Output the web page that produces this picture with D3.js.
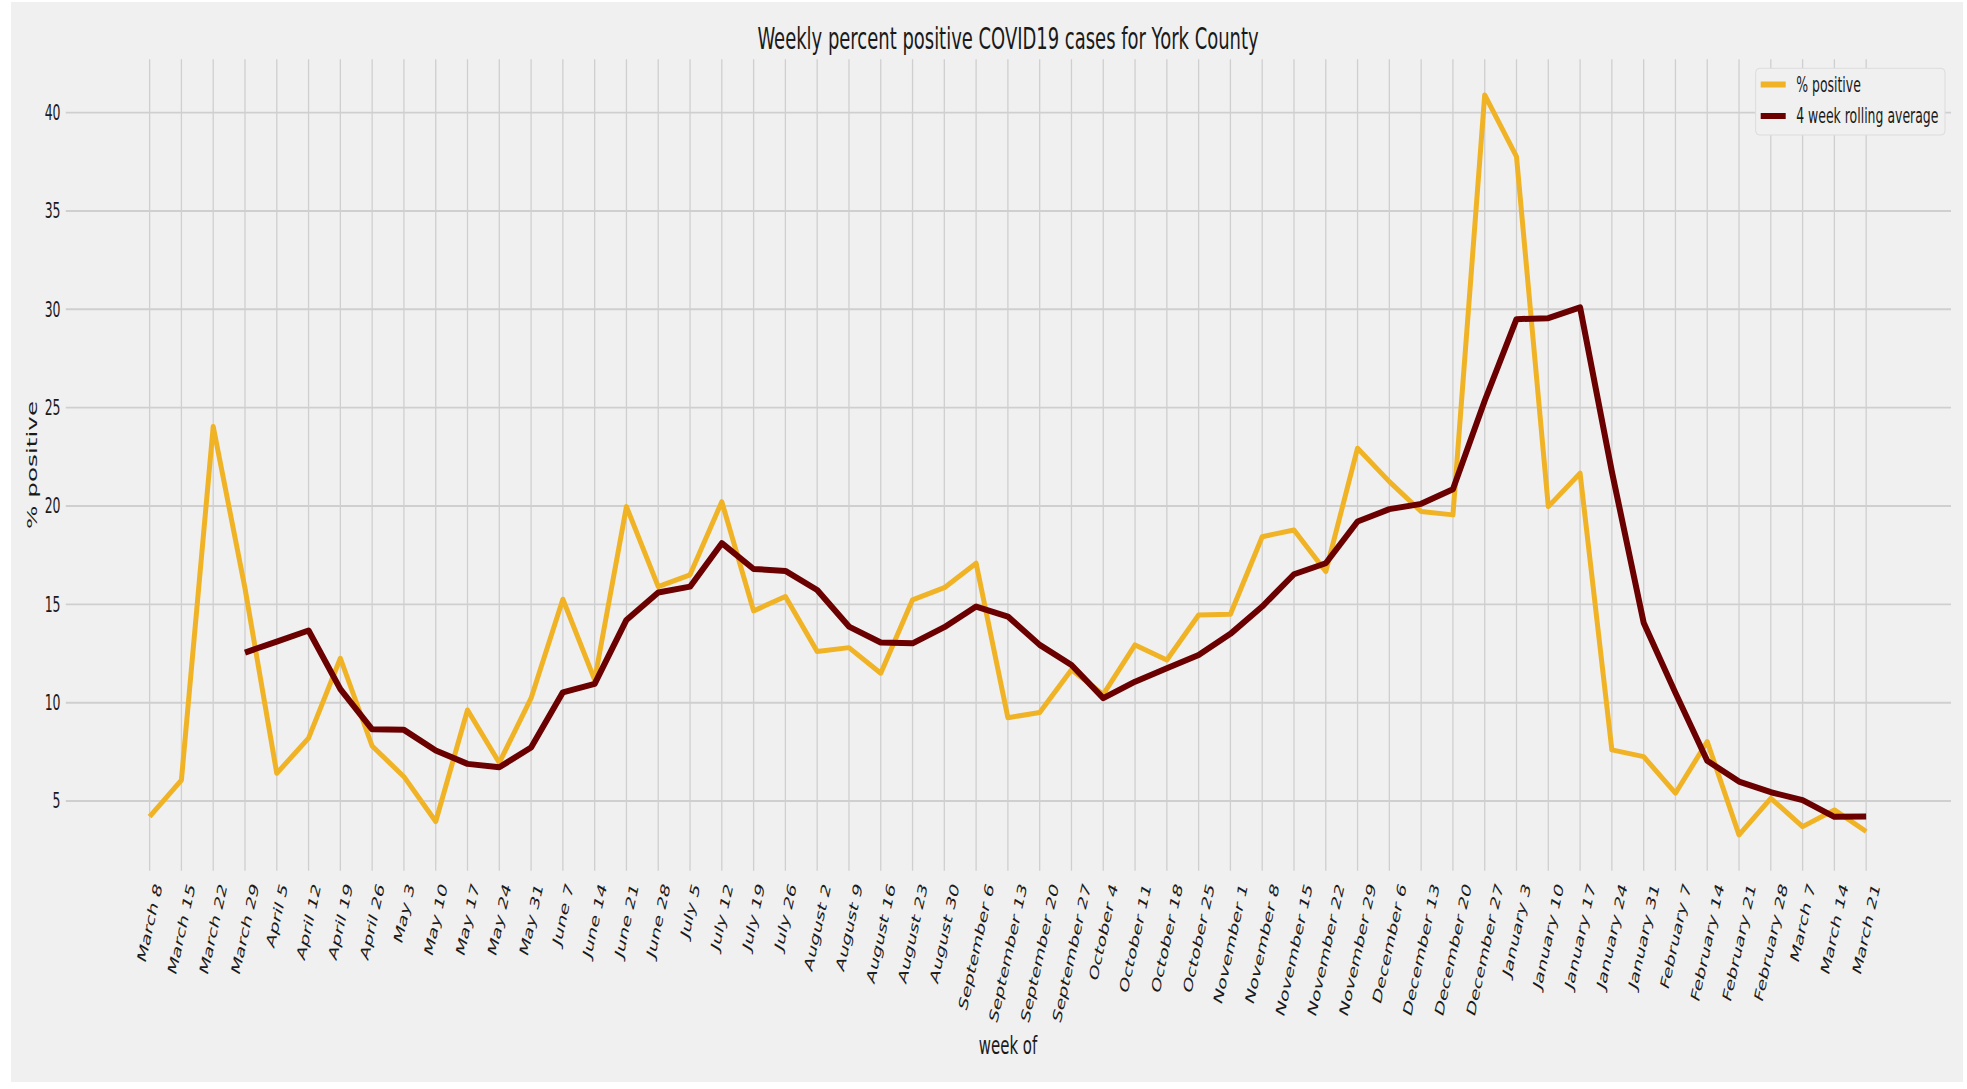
<!DOCTYPE html>
<html>
<head>
<meta charset="utf-8">
<script src="https://cdn.jsdelivr.net/npm/d3@7"></script>
<style>
  body { margin: 0; background: #fff; }
  svg { display: block; font-family: "DejaVu Sans", sans-serif; }
</style>
</head>
<body>
<svg width="1967" height="1089"></svg>
<script>
"use strict";

// weekly data
var weeks = ["March 8", "March 15", "March 22", "March 29", "April 5", "April 12", "April 19", "April 26",
  "May 3", "May 10", "May 17", "May 24", "May 31", "June 7", "June 14", "June 21", "June 28",
  "July 5", "July 12", "July 19", "July 26", "August 2", "August 9", "August 16", "August 23", "August 30",
  "September 6", "September 13", "September 20", "September 27", "October 4", "October 11", "October 18",
  "October 25", "November 1", "November 8", "November 15", "November 22", "November 29", "December 6",
  "December 13", "December 20", "December 27", "January 3", "January 10", "January 17", "January 24",
  "January 31", "February 7", "February 14", "February 21", "February 28", "March 7", "March 14", "March 21"];

var pctPositive = [4.21, 6.07, 24.04, 15.82, 6.41, 8.2, 12.26, 7.8, 6.24, 3.96, 9.63, 6.95, 10.23, 15.26,
  11.16, 19.97, 15.9, 16.5, 20.22, 14.67, 15.4, 12.6, 12.8, 11.5, 15.23, 15.85, 17.09, 9.24, 9.5, 11.67,
  10.42, 12.94, 12.17, 14.46, 14.5, 18.44, 18.78, 16.67, 22.94, 21.24, 19.72, 19.55, 40.9, 37.76, 19.97,
  21.67, 7.6, 7.26, 5.4, 8.02, 3.28, 5.14, 3.7, 4.55, 3.45];

var rollingAvg = [null, null, null, 12.55, 13.11, 13.67, 10.69, 8.65, 8.62, 7.57, 6.89, 6.72, 7.72, 10.53,
  10.96, 14.21, 15.6, 15.9, 18.11, 16.8, 16.7, 15.73, 13.87, 13.06, 13.02, 13.84, 14.89, 14.38, 12.94,
  11.92, 10.23, 11.07, 11.75, 12.43, 13.5, 14.89, 16.53, 17.09, 19.21, 19.84, 20.11, 20.85, 25.35, 29.5,
  29.55, 30.1, 21.75, 14.07, 10.5, 7.05, 5.99, 5.45, 5.05, 4.2, 4.22];

var yTicks = [5, 10, 15, 20, 25, 30, 35, 40];
var seriesNames = ["% positive", "4 week rolling average"];
var seriesColors = ["#f0b326", "#6b0000"];

var svg = d3.select("svg"),
    width = +svg.attr("width"),
    height = +svg.attr("height");

// the original picture has narrow text, so every label is squeezed sideways
var squeeze = 0.605;
var textColor = "#1a1a1a";

svg.append("rect")
  .attr("x", 11).attr("y", 2)
  .attr("width", width - 15).attr("height", height - 9)
  .attr("fill", "#f0f0f0");

var x = d3.scaleLinear().domain([-2.7, weeks.length - 1 + 2.7]).range([63.8, 1952]);
var y = d3.scaleLinear().domain([1.46, 42.71]).range([870.7, 59.3]);

// grid
var grid = svg.append("g").attr("class", "grid").attr("stroke", "#cfcfcf");
grid.selectAll("line.h").data(yTicks).enter().append("line")
  .attr("class", "h")
  .attr("stroke-width", 1.9)
  .attr("x1", x.range()[0] + 2).attr("x2", x.range()[1] - 1)
  .attr("y1", function (d) { return y(d); })
  .attr("y2", function (d) { return y(d); });
grid.selectAll("line.v").data(weeks).enter().append("line")
  .attr("class", "v")
  .attr("stroke-width", 1.3)
  .attr("x1", function (d, i) { return x(i); })
  .attr("x2", function (d, i) { return x(i); })
  .attr("y1", y.range()[1]).attr("y2", y.range()[0]);

// y tick labels
svg.append("g").selectAll("text").data(yTicks).enter().append("text")
  .attr("transform", function (d) { return "translate(60.5," + y(d) + ") scale(" + squeeze + ",1)"; })
  .attr("dy", "0.36em")
  .attr("text-anchor", "end")
  .attr("font-size", 20.6)
  .attr("fill", textColor)
  .text(function (d) { return d; });

// x tick labels, rotated 70 degrees then squeezed
var rot = 70, rad = rot * Math.PI / 180, labelTop = 881.5;
svg.append("g").selectAll("text").data(weeks).enter().append("text")
  .attr("text-anchor", "middle")
  .attr("dy", "0.36em")
  .attr("font-size", 20.6)
  .attr("fill", textColor)
  .text(function (d) { return d; })
  .attr("transform", function (d, i) {
    var len = this.getComputedTextLength();
    var h = len * Math.sin(rad) + 15 * Math.cos(rad);
    return "translate(" + x(i) + "," + (labelTop + h / 2) + ") scale(" + squeeze + ",1) rotate(" + (-rot) + ")";
  });

// lines
var line = d3.line()
  .defined(function (d) { return d != null; })
  .x(function (d, i) { return x(i); })
  .y(function (d) { return y(d); });

svg.append("path").datum(pctPositive)
  .attr("fill", "none")
  .attr("stroke", seriesColors[0])
  .attr("stroke-width", 5)
  .attr("stroke-linejoin", "round")
  .attr("d", line);

svg.append("path").datum(rollingAvg)
  .attr("fill", "none")
  .attr("stroke", seriesColors[1])
  .attr("stroke-width", 6)
  .attr("stroke-linejoin", "round")
  .attr("d", line);

// title and axis labels
svg.append("text")
  .attr("transform", "translate(1008,48.5) scale(" + squeeze + ",1)")
  .attr("text-anchor", "middle")
  .attr("font-size", 29.7)
  .attr("fill", textColor)
  .text("Weekly percent positive COVID19 cases for York County");

svg.append("text")
  .attr("transform", "translate(36.9,465) scale(" + squeeze + ",1) rotate(-90)")
  .attr("text-anchor", "middle")
  .attr("font-size", 24.7)
  .attr("fill", textColor)
  .text("% positive");

svg.append("text")
  .attr("transform", "translate(1008,1053.5) scale(" + squeeze + ",1)")
  .attr("text-anchor", "middle")
  .attr("font-size", 24.7)
  .attr("fill", textColor)
  .text("week of");

// legend
var legend = svg.append("g").attr("transform", "translate(1755.7,68.3)");
legend.append("rect")
  .attr("width", 189.3).attr("height", 66.7)
  .attr("rx", 4)
  .attr("fill", "#f0f0f0")
  .attr("stroke", "#dcdcdc");
var item = legend.selectAll("g").data(seriesNames).enter().append("g")
  .attr("transform", function (d, i) { return "translate(0," + (16.2 + i * 31.5) + ")"; });
item.append("line")
  .attr("x1", 5).attr("x2", 30)
  .attr("stroke", function (d, i) { return seriesColors[i]; })
  .attr("stroke-width", 6);
item.append("text")
  .attr("transform", "translate(40.5,0) scale(" + squeeze + ",1)")
  .attr("dy", "0.36em")
  .attr("font-size", 20.6)
  .attr("fill", textColor)
  .text(function (d) { return d; });
</script>
</body>
</html>
